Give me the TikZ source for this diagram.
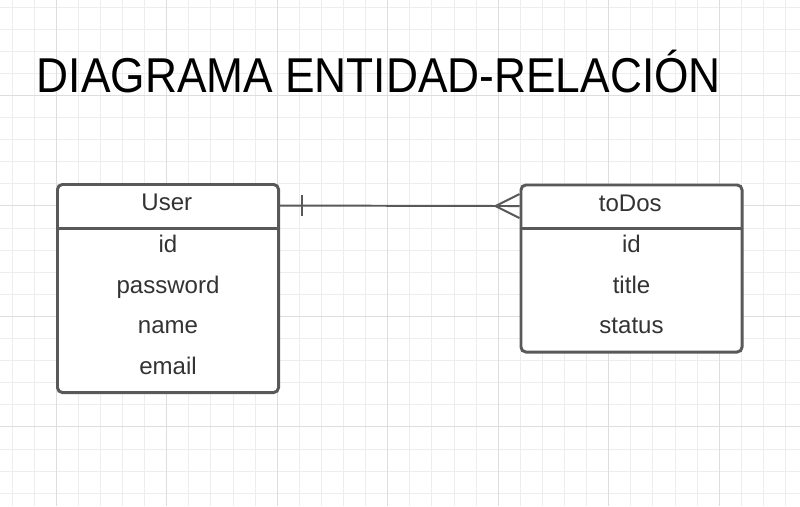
\documentclass[tikz,border=0pt]{standalone}
\usepackage{fontspec}
\setmainfont{Liberation Sans}
\newfontfamily\titlefont[FakeStretch=0.905]{Liberation Sans}
\usetikzlibrary{calc}

\begin{document}
\begin{tikzpicture}[x=0.025cm, y=-0.025cm]
    % Define colours
    \definecolor{borderColour}{HTML}{595959}
    \definecolor{textColour}{HTML}{333333}
    \definecolor{minorGrid}{HTML}{EDEDED}
    \definecolor{majorGrid}{HTML}{DDDDDD}

    % Define styles
    \tikzset{
      entity/.style={draw=borderColour, line width=2.1pt, rounded corners=3.5pt,
        fill=white, minimum width=5.525cm, anchor=north west, inner sep=0pt},
      header/.style={minimum width=5.525cm, minimum height=1.1125cm, anchor=north west,
        inner sep=0pt, text=textColour, font=\fontsize{17.1}{20}\selectfont,
        text height=12.2pt, text depth=4.45pt},
      attr/.style={anchor=base, inner sep=0pt, text=textColour,
        font=\fontsize{17.1}{20}\selectfont},
      relline/.style={draw=borderColour, line width=1.4pt}
    }

    % Define grid spacing
    \def\gridStep{22.1}

  % Background and bounding box
  \fill[white] (0,0) rectangle (800,506);
  \useasboundingbox (0,0) rectangle (800,506);

  % Draw the grid
  \foreach \i in {0,...,35} {
    \pgfmathsetmacro\gx{12+\gridStep*\i}
    \draw[minorGrid, line width=0.7pt] (\gx,0) -- (\gx,506);
  }
  \foreach \j in {0,...,22} {
    \pgfmathsetmacro\gy{7+\gridStep*\j}
    \draw[minorGrid, line width=0.7pt] (0,\gy) -- (800,\gy);
  }
  \foreach \gx in {56.2,166.7,277.2,387.7,498.2,608.7,719.2}
    \draw[majorGrid, line width=0.7pt] (\gx,0) -- (\gx,506);
  \foreach \gy in {95.4,205.9,316.4,426.9}
    \draw[majorGrid, line width=0.7pt] (0,\gy) -- (800,\gy);

  % Title
  \node[anchor=base west, inner sep=0pt, font=\titlefont\fontsize{34.8}{40}\selectfont] (title)
    at (36.5,92.3) {DIAGRAMA ENTIDAD-RELACIÓN};

  % Entity boxes
  \node[entity, minimum height=5.2cm] (user) at (56,183) {};
  \node[entity, minimum height=4.175cm] (todos) at (519.5,183.5) {};

  % Headers
  \node[header] (userhead) at (user.north west) {User};
  \node[header] (todoshead) at (todos.north west) {toDos};

  % Header dividers
  \draw[draw=borderColour, line width=2.1pt] (userhead.south west) -- (userhead.south east);
  \draw[draw=borderColour, line width=2.1pt] (todoshead.south west) -- (todoshead.south east);

  % Attributes
  \foreach \t [count=\i] in {id,password,name,email}
    \node[attr] (user-\i) at ($(user.north)+(0,29.1+40.6*\i)$) {\t};
  \foreach \t [count=\i] in {id,title,status}
    \node[attr] (todos-\i) at ($(todos.north)+(0,28.6+40.6*\i)$) {\t};

  % Relationship: one User has many toDos
  \draw[relline] (userhead.east) -- (todoshead.west);
  \coordinate (onebar) at ($(userhead.east)+(24,0)$);
  \draw[relline] ($(onebar)+(0,-10.5)$) -- ($(onebar)+(0,10.5)$);
  \coordinate (foot) at ($(todoshead.west)+(-24,0)$);
  \draw[relline] ($(todoshead.west)+(0,-12)$) -- (foot) -- ($(todoshead.west)+(0,12)$);

\end{tikzpicture}
\end{document}
